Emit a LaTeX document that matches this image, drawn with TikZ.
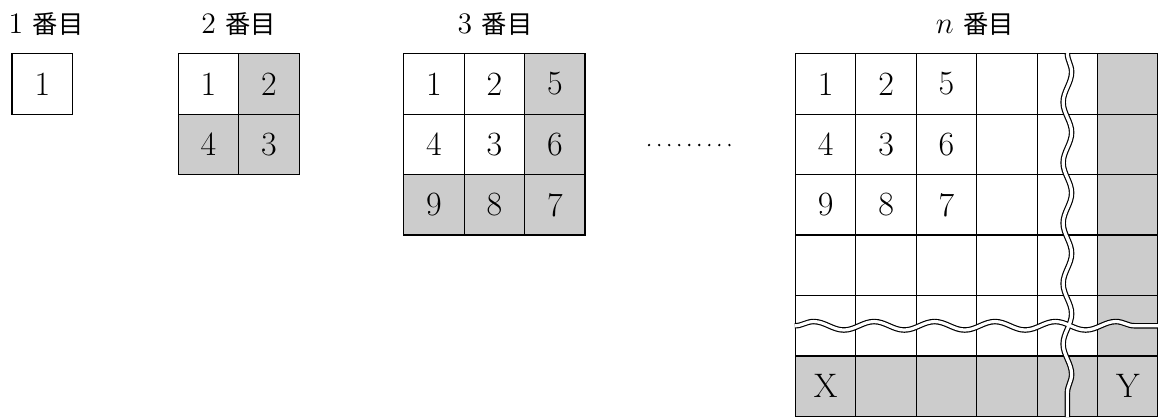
\documentclass[tikz,border=0pt]{standalone}
\usepackage{fontspec}
\newfontfamily\cjk[Scale=0.85]{Noto Sans CJK JP}
\usetikzlibrary{decorations.pathmorphing}

\begin{document}
\begin{tikzpicture}[x=1cm, y=-1cm,
    cell/.style={draw, line width=0.6pt, minimum size=1cm, inner sep=0pt, anchor=north west, font=\fontsize{16}{18}\selectfont},
    shaded/.style={cell, fill=gray!40},
    num/.style={font=\fontsize{16}{18}\selectfont, inner sep=0pt},
    lbl/.style={font=\fontsize{14}{16}\selectfont},
    wavy/.style={decorate, decoration={snake, segment length=1cm, amplitude=0.07cm}}]
  \useasboundingbox (0,0) rectangle (19.16,6.91);
  % Stage 1
  \node[lbl] (t1) at (0.76,0.39) {1 {\cjk 番目}};
  \node[cell] (a-1-1) at (0.19,0.88) {1};
  % Stage 2
  \node[lbl] (t2) at (3.95,0.39) {2 {\cjk 番目}};
  \foreach \r/\c/\v/\s in {1/1/1/cell, 1/2/2/shaded, 2/1/4/shaded, 2/2/3/shaded}
    \node[\s] (b-\r-\c) at ({2.94+\c-1},{0.88+\r-1}) {\v};
  % Stage 3
  \node[lbl] (t3) at (8.19,0.39) {3 {\cjk 番目}};
  \foreach \r/\c/\v/\s in {1/1/1/cell, 1/2/2/cell, 1/3/5/shaded,
                           2/1/4/cell, 2/2/3/cell, 2/3/6/shaded,
                           3/1/9/shaded, 3/2/8/shaded, 3/3/7/shaded}
    \node[\s] (c-\r-\c) at ({6.67+\c-1},{0.88+\r-1}) {\v};
  % Dots
  \foreach \i in {0,...,8}
    \fill ({10.74+\i*0.166},2.40) circle (0.022);
  % Stage n
  \node[lbl] (tn) at (16.13,0.39) {$n$ {\cjk 番目}};
  \foreach \r in {1,...,6}
    \foreach \c in {1,...,6} {
      \ifnum\r=6 \def\st{shaded}\else\ifnum\c=6 \def\st{shaded}\else\def\st{cell}\fi\fi
      \node[\st] (n-\r-\c) at ({13.15+\c-1},{0.88+\r-1}) {};
    }
  \foreach \r/\c/\v in {1/1/1, 1/2/2, 1/3/5, 2/1/4, 2/2/3, 2/3/6,
                        3/1/9, 3/2/8, 3/3/7, 6/1/X, 6/6/Y}
    \node[num] (v-\r-\c) at (n-\r-\c) {\v};
  % Break lines
  \draw[wavy, line width=2.6pt] (n-5-1.west) -- (n-5-6.east);
  \draw[wavy, line width=2.6pt] (n-1-5.north) -- (n-6-5.south);
  \draw[wavy, white, line width=1.5pt] (n-5-1.west) -- (n-5-6.east);
  \draw[wavy, white, line width=1.5pt] (n-1-5.north) -- (n-6-5.south);
\end{tikzpicture}
\end{document}
